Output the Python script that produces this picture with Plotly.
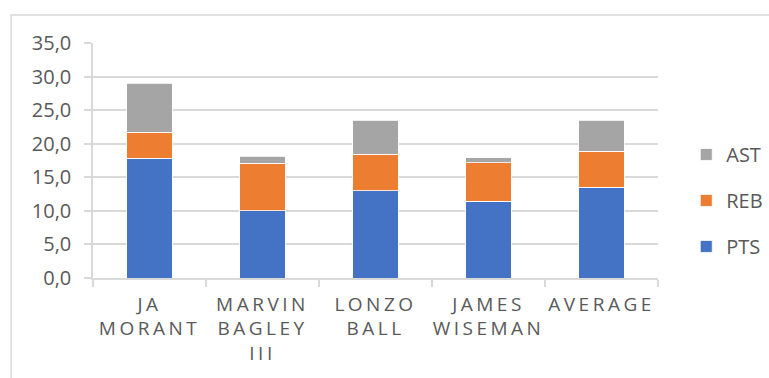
import plotly.graph_objects as go

# Per-game averages for each rookie and the group average
players = ["JA MORANT", "MARVIN BAGLEY III", "LONZO BALL", "JAMES WISEMAN", "AVERAGE"]
tick_labels = ["JA<br>MORANT", "MARVIN<br>BAGLEY<br>III", "LONZO<br>BALL", "JAMES<br>WISEMAN", "AVERAGE"]
pts = [17.8, 10.0, 13.0, 11.4, 13.5]
reb = [3.9, 7.1, 5.4, 5.8, 5.4]
ast = [7.3, 1.0, 5.1, 0.7, 4.6]

series = [("PTS", pts, "#4472C4", 3), ("REB", reb, "#ED7D31", 2), ("AST", ast, "#A5A5A5", 1)]

fig = go.Figure()
for name, vals, color, rank in series:
    fig.add_trace(go.Bar(
        x=players, y=vals, name=name, legendgroup=name, legendrank=rank,
        marker=dict(color=color, line=dict(color="white", width=0.8)),
    ))

grid = "#d9d9d9"
txt = "#595959"

open_span = "<span style='letter-spacing:3.5px'>"
spaced = [open_span + t.replace("<br>", "</span><br>" + open_span) + "</span>" for t in tick_labels]

fig.update_layout(
    width=769, height=378,
    margin=dict(l=93, r=111, t=43, b=100, autoexpand=False),
    barmode="stack", bargap=0.6,
    paper_bgcolor="white", plot_bgcolor="white",
    separators=", ",
    font=dict(family="Open Sans", color=txt, size=18),
    showlegend=True,
    legend=dict(
        traceorder="grouped", tracegroupgap=17,
        x=1.05, xanchor="left", y=0.33, yanchor="middle",
        font=dict(size=20, color=txt), bgcolor="rgba(0,0,0,0)",
    ),
    xaxis=dict(
        tickmode="array", tickvals=players, ticktext=spaced, tickangle=0, automargin=False,
        tickson="boundaries", ticks="outside", ticklen=7, tickcolor=grid, tickwidth=1.5,
        ticklabelstandoff=8,
        showline=True, linecolor=grid, linewidth=1.5,
        showgrid=False, tickfont=dict(size=19, color=txt),
    ),
    yaxis=dict(
        range=[0, 35], dtick=5, tickformat=".1f", automargin=False,
        showgrid=True, gridcolor=grid, gridwidth=1.5,
        ticks="outside", ticklen=7, tickcolor=grid, tickwidth=1.5,
        ticklabelstandoff=9,
        showline=True, linecolor=grid, linewidth=1.5,
        zeroline=False, tickfont=dict(size=20, color=txt),
    ),
    shapes=[dict(
        type="rect", xref="paper", yref="paper",
        x0=-0.145, x1=1.4, y0=-0.6, y1=1.119,
        line=dict(color=grid, width=1.5), fillcolor="rgba(0,0,0,0)", layer="below",
    )],
)

fig.write_html("out.html")
